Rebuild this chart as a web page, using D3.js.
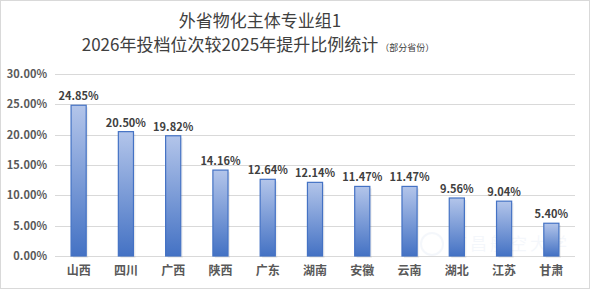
<!DOCTYPE html>
<html lang="zh">
<head>
<meta charset="utf-8">
<title>外省物化主体专业组1 提升比例统计</title>
<script src="https://d3js.org/d3.v7.min.js"></script>
<style>
  body { margin: 0; background: #fff; }
  .axis text { font-family: "Noto Sans CJK SC", "DejaVu Sans", sans-serif; }
</style>
</head>
<body>
<div id="chart"></div>
<script>
// data
var provinces = ["山西", "四川", "广西", "陕西", "广东", "湖南", "安徽", "云南", "湖北", "江苏", "甘肃"]
var rates = [24.85, 20.50, 19.82, 14.16, 12.64, 12.14, 11.47, 11.47, 9.56, 9.04, 5.40]
var yTicks = [0, 5, 10, 15, 20, 25, 30]

var w = 590
var h = 289
var font = '"Noto Sans CJK SC", "Noto Sans", sans-serif'

var svg = d3.select("#chart").append("svg")
  .attr("width", w)
  .attr("height", h)

// outer frame
svg.append("rect")
  .attr("x", 0.5).attr("y", 0.5)
  .attr("width", w - 1).attr("height", h - 1)
  .attr("fill", "#fff")
  .attr("stroke", "#d9d9d9")

// gradient for bars
var grad = svg.append("defs").append("linearGradient")
  .attr("id", "barGrad")
  .attr("x1", 0).attr("y1", 0).attr("x2", 0).attr("y2", 1)
grad.append("stop").attr("offset", "0%").attr("stop-color", "#b3c5ea")
grad.append("stop").attr("offset", "100%").attr("stop-color", "#4472c4")

var xScale = d3.scaleBand()
  .domain(provinces)
  .range([55, 575])
  .paddingInner(0.68)
  .paddingOuter(0.34)

var yScale = d3.scaleLinear()
  .domain([0, 30])
  .range([256, 74])

// gridlines
svg.append("g")
  .selectAll("line")
  .data(yTicks)
  .enter()
  .append("line")
  .attr("x1", 55)
  .attr("x2", 575)
  .attr("y1", function(d) { return Math.round(yScale(d)) + 0.5 })
  .attr("y2", function(d) { return Math.round(yScale(d)) + 0.5 })
  .attr("stroke", "#d9d9d9")

// y axis labels
var yAxis = d3.axisLeft(yScale)
  .tickValues(yTicks)
  .tickSize(0)
  .tickPadding(8)
  .tickFormat(function(d) { return d.toFixed(2) + "%" })

svg.append("g")
  .attr("class", "axis")
  .attr("transform", "translate(55,0)")
  .call(yAxis)
  .call(function(g) { g.select(".domain").remove() })
  .selectAll("text")
  .attr("fill", "#595959")
  .style("font-size", "11px")
  .style("font-weight", "bold")

// x axis labels
var xAxis = d3.axisBottom(xScale).tickSize(0).tickPadding(10)
svg.append("g")
  .attr("class", "axis")
  .attr("transform", "translate(0,256)")
  .call(xAxis)
  .call(function(g) { g.select(".domain").remove() })
  .selectAll("text")
  .attr("fill", "#595959")
  .style("font-size", "12px")
  .style("font-weight", "bold")

// faint watermark
var wm = svg.append("g").attr("opacity", 0.05)
wm.append("circle")
  .attr("cx", 432).attr("cy", 244).attr("r", 11)
  .attr("fill", "none").attr("stroke", "#4472c4").attr("stroke-width", 2)
wm.append("text")
  .attr("x", 450)
  .attr("y", 250)
  .attr("fill", "#4472c4")
  .style("font-family", font)
  .style("font-size", "17px")
  .style("letter-spacing", "3px")
  .text("南昌航空大学")

// bar shadows
svg.append("g")
  .selectAll("rect")
  .data(rates)
  .enter()
  .append("rect")
  .attr("x", function(d, i) { return xScale(provinces[i]) + 2 })
  .attr("y", function(d) { return yScale(d) + 2 })
  .attr("width", xScale.bandwidth())
  .attr("height", function(d) { return yScale(0) - yScale(d) })
  .attr("fill", "#000")
  .attr("opacity", 0.06)

// bars
svg.append("g")
  .selectAll("rect")
  .data(rates)
  .enter()
  .append("rect")
  .attr("x", function(d, i) { return xScale(provinces[i]) })
  .attr("y", function(d) { return yScale(d) })
  .attr("width", xScale.bandwidth())
  .attr("height", function(d) { return yScale(0) - yScale(d) })
  .attr("fill", "url(#barGrad)")
  .attr("stroke", "#4472c4")
  .attr("stroke-width", 1.2)

// value labels
svg.append("g")
  .selectAll("text")
  .data(rates)
  .enter()
  .append("text")
  .attr("x", function(d, i) { return xScale(provinces[i]) + xScale.bandwidth() / 2 })
  .attr("y", function(d) { return yScale(d) - 5 })
  .attr("text-anchor", "middle")
  .attr("fill", "#404040")
  .style("font-family", font)
  .style("font-size", "11px")
  .style("font-weight", "bold")
  .text(function(d) { return d.toFixed(2) + "%" })

// title
svg.append("text")
  .attr("x", 260)
  .attr("y", 27)
  .attr("text-anchor", "middle")
  .attr("fill", "#404040")
  .style("font-family", font)
  .style("font-size", "17px")
  .text("外省物化主体专业组1")

var t2 = svg.append("text")
  .attr("x", 258)
  .attr("y", 51)
  .attr("text-anchor", "middle")
  .attr("fill", "#404040")
  .style("font-family", font)
  .style("font-size", "17px")
t2.append("tspan").text("2026年投档位次较2025年提升比例统计")
t2.append("tspan").style("font-size", "9px").attr("dx", 2).text("（部分省份）")
</script>
</body>
</html>
